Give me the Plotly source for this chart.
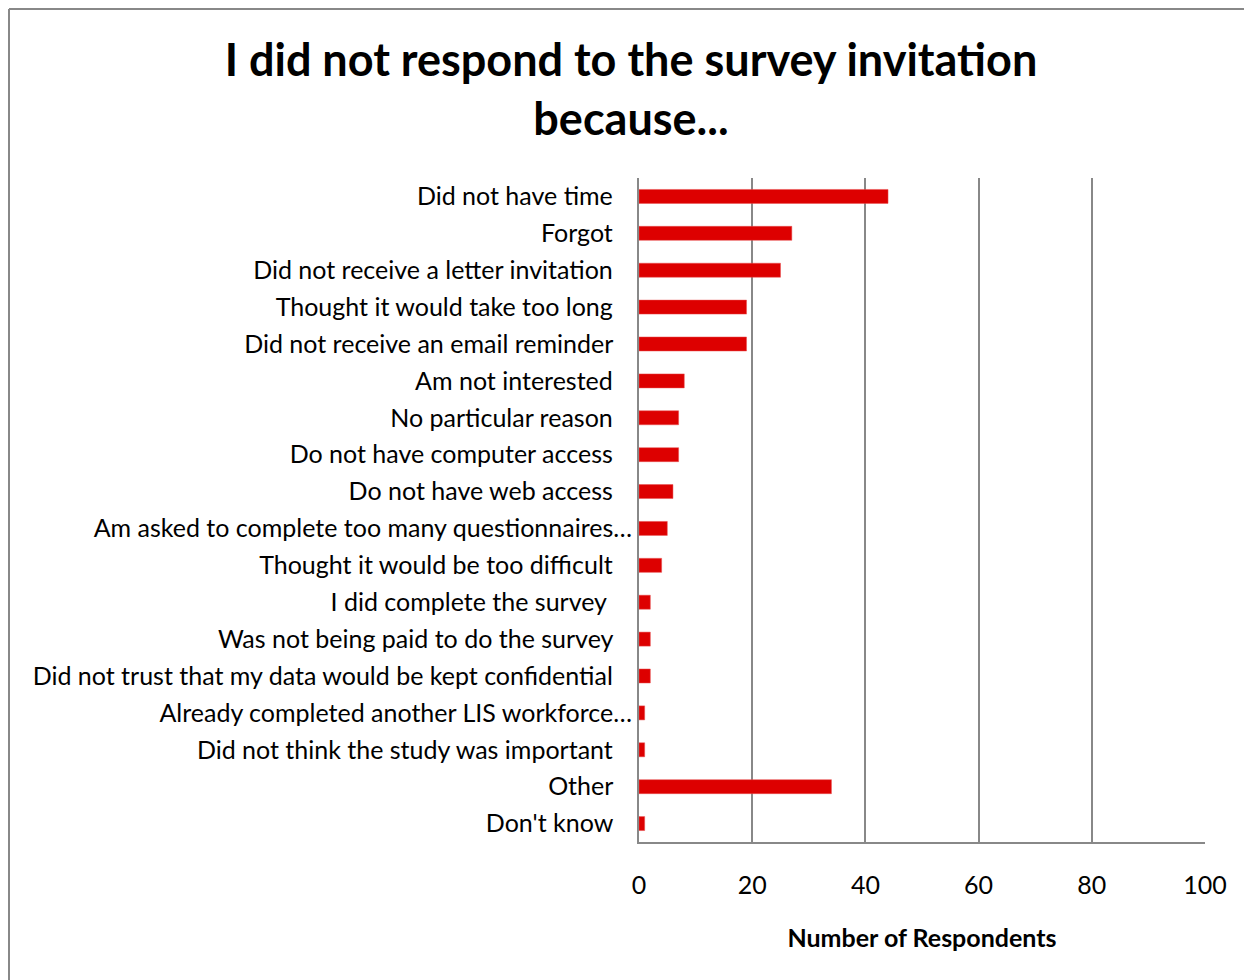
import plotly.graph_objects as go

categories = [
    "Did not have time",
    "Forgot",
    "Did not receive a letter invitation",
    "Thought it would take too long",
    "Did not receive an email reminder",
    "Am not interested",
    "No particular reason",
    "Do not have computer access",
    "Do not have web access",
    "Am asked to complete too many questionnaires…",
    "Thought it would be too difficult",
    "I did complete the survey ",
    "Was not being paid to do the survey",
    "Did not trust that my data would be kept confidential",
    "Already completed another LIS workforce…",
    "Did not think the study was important",
    "Other",
    "Don't know",
]
respondents = [44, 27, 25, 19, 19, 8, 7, 7, 6, 5, 4, 2, 2, 2, 1, 1, 34, 1]
x_ticks = [0, 20, 40, 60, 80, 100]

FONT = "Lato"
PAD = "\u00a0" * 3
tick_text = [c if c.endswith("…") else c + PAD for c in categories]

W, H = 1244, 972
ML, MR, MT, MB = 631, 47, 170, 138
PW, PH = W - ML - MR, H - MT - MB

fig = go.Figure(go.Bar(
    y=categories,
    x=respondents,
    orientation="h",
    width=0.38,
    marker=dict(color="#DD0000", line=dict(color="#E85050", width=0.5)),
))

fig.update_layout(
    width=W, height=H,
    margin=dict(l=ML, r=MR, t=MT, b=MB),
    paper_bgcolor="white", plot_bgcolor="white",
    showlegend=False,
    title=dict(
        text="<b>I did not respond to the survey invitation<br>because...</b>",
        x=623 / W, xanchor="center", y=1 - 68 / H, yanchor="middle",
        font=dict(family=FONT, size=45, color="black"),
    ),
    font=dict(family=FONT, color="black"),
)

fig.update_yaxes(
    categoryorder="array", categoryarray=categories[::-1],
    tickmode="array", tickvals=categories, ticktext=tick_text,
    tickfont=dict(family=FONT, size=25, color="black"),
    showline=True, linecolor="#888888", linewidth=2,
    showgrid=False, ticks="", ticklabelstandoff=0,
    range=[-0.5, len(categories) - 0.5],
)
fig.update_xaxes(
    range=[0, 100], tickmode="array", tickvals=x_ticks,
    tickfont=dict(family=FONT, size=25, color="black"),
    showline=True, linecolor="#888888", linewidth=2,
    showgrid=True, gridcolor="#888888", gridwidth=1.5,
    zeroline=False, ticks="", ticklabelstandoff=20,
    title=dict(text="<b>Number of Respondents</b>",
               font=dict(family=FONT, size=25, color="black"), standoff=31),
)

# outer chart border (left and top visible)
bx = (1 - ML) / PW
by = (H - MB - 1) / PH
fig.add_shape(type="line", xref="paper", yref="paper",
              x0=bx, x1=(W - ML) / PW + 0.01, y0=by, y1=by,
              line=dict(color="#888888", width=2))
fig.add_shape(type="line", xref="paper", yref="paper",
              x0=bx, x1=bx, y0=by, y1=-MB / PH - 0.01,
              line=dict(color="#888888", width=2))

fig.write_html("out.html")
